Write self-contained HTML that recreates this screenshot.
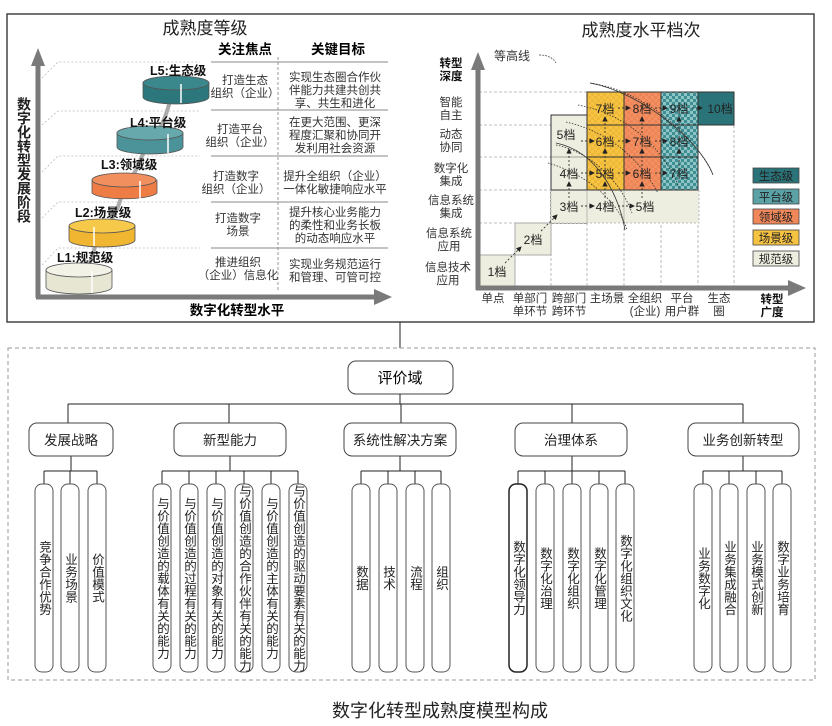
<!DOCTYPE html>
<html><head><meta charset="utf-8"><style>
html,body{margin:0;padding:0;background:#fff;}
svg{display:block;font-family:"Liberation Sans","Noto Sans CJK SC",sans-serif;}
.v{writing-mode:vertical-rl;text-orientation:upright;}
</style></head><body>
<svg width="832" height="726" viewBox="0 0 832 726" xmlns="http://www.w3.org/2000/svg">
<defs>
<marker id="ah" markerWidth="6" markerHeight="6" refX="5" refY="3" orient="auto"><path d="M0,0 L6,3 L0,6 z" fill="#222"/></marker>
<pattern id="py" width="6" height="6" patternUnits="userSpaceOnUse"><rect width="6" height="6" fill="#f6c443"/><rect width="3" height="3" fill="#f0b838"/><rect x="3" y="3" width="3" height="3" fill="#f0b838"/></pattern>
<pattern id="po" width="6" height="6" patternUnits="userSpaceOnUse"><rect width="6" height="6" fill="#f39063"/><rect width="3" height="3" fill="#ee8556"/><rect x="3" y="3" width="3" height="3" fill="#ee8556"/></pattern>
<pattern id="pt" width="6" height="6" patternUnits="userSpaceOnUse"><rect width="6" height="6" fill="#8fc4c4"/><rect width="3" height="3" fill="#3d8f93"/><rect x="3" y="3" width="3" height="3" fill="#3d8f93"/></pattern>
</defs>

<rect x="7" y="14" width="807" height="308" fill="none" stroke="#444" stroke-width="1.5"/>
<line x1="400" y1="322" x2="400" y2="348" stroke="#222" stroke-width="1"/>

<!-- LEFT PANEL -->
<text x="205" y="34" font-size="17" text-anchor="middle" fill="#222">成熟度等级</text>
<text x="245" y="54" font-size="13.5" font-weight="bold" text-anchor="middle">关注焦点</text>
<text x="338" y="54" font-size="13.5" font-weight="bold" text-anchor="middle">关键目标</text>
<line x1="278" y1="57" x2="278" y2="292" stroke="#999" stroke-dasharray="3,2"/>
<g stroke="#888" stroke-width="1">
<line x1="211" y1="62" x2="388" y2="62"/><line x1="211" y1="110" x2="388" y2="110"/>
<line x1="211" y1="156" x2="388" y2="156"/><line x1="211" y1="202" x2="388" y2="202"/>
<line x1="211" y1="248" x2="388" y2="248"/>
</g>
<g stroke="#bbb" stroke-width="0.8" stroke-dasharray="2,2" fill="none">
<path d="M42,78 L58,62 L200,62"/><path d="M42,125 L58,111 L200,111"/>
<path d="M42,172 L58,156 L200,156"/><path d="M42,218 L58,202 L200,202"/>
<path d="M42,265 L58,248 L200,248"/>
</g>
<line x1="38" y1="62" x2="38" y2="298" stroke="#7a7a7a" stroke-width="5"/>
<path d="M31,66 L38,48 L45,66 z" fill="#7a7a7a"/>
<line x1="36" y1="297" x2="378" y2="297" stroke="#7a7a7a" stroke-width="5"/>
<path d="M374,289 L392,297 L374,305 z" fill="#7a7a7a"/>
<text x="24" y="97" font-size="14" font-weight="bold" class="v" fill="#222">数字化转型发展阶段</text>
<text x="237" y="315" font-size="13.5" font-weight="bold" text-anchor="middle">数字化转型水平</text>

<path d="M80,275 C100,255 90,245 102,232 C118,215 120,200 125,185 C140,170 140,155 150,140 C170,120 165,105 176,90" fill="none" stroke="#aaa" stroke-width="4"/>
<g stroke="#555" stroke-width="0.8">
<path d="M46,270 L46,287 A33,7 0 0 0 112,287 L112,270 z" fill="#e6e6d2"/><ellipse cx="79" cy="270" rx="33" ry="7" fill="#f2f2e6"/>
<path d="M69,226 L69,240 A33,7 0 0 0 135,240 L135,226 z" fill="#f0b632"/><ellipse cx="102" cy="226" rx="33" ry="7" fill="#f7c94a"/>
<path d="M92,180 L92,193 A33,7 0 0 0 157,193 L157,180 z" fill="#ee7c45"/><ellipse cx="124" cy="180" rx="32" ry="7" fill="#f28f5e"/>
<path d="M117,133 L117,147 A33,7 0 0 0 183,147 L183,133 z" fill="#4b9398"/><ellipse cx="150" cy="133" rx="33" ry="7" fill="#66a8ac"/>
<path d="M143,83 L143,97 A33,7 0 0 0 209,97 L209,83 z" fill="#2c777c"/><ellipse cx="176" cy="83" rx="33" ry="7" fill="#3a888c"/>
</g>
<g stroke="#fff" stroke-width="1.5">
<line x1="92" y1="271" x2="92" y2="293"/><line x1="94" y1="227" x2="94" y2="246"/>
<line x1="140" y1="181" x2="140" y2="199"/><line x1="168" y1="134" x2="168" y2="153"/><line x1="181" y1="84" x2="181" y2="103"/>
</g>
<g font-size="12.5" font-weight="bold" fill="#111">
<text x="150" y="75">L5:生态级</text><text x="130" y="127">L4:平台级</text>
<text x="101" y="169">L3:领域级</text><text x="75" y="217">L2:场景级</text><text x="57" y="262">L1:规范级</text>
</g>
<g font-size="11.5" text-anchor="middle" fill="#333">
<text x="245" y="84">打造生态</text><text x="245" y="97">组织（企业）</text>
<text x="335" y="81">实现生态圈合作伙</text><text x="335" y="94">伴能力共建共创共</text><text x="335" y="107">享、共生和进化</text>
<text x="240" y="133">打造平台</text><text x="240" y="146">组织（企业）</text>
<text x="335" y="126">在更大范围、更深</text><text x="335" y="139">程度汇聚和协同开</text><text x="335" y="152">发利用社会资源</text>
<text x="236" y="180">打造数字</text><text x="236" y="193">组织（企业）</text>
<text x="335" y="180">提升全组织（企业）</text><text x="335" y="193">一体化敏捷响应水平</text>
<text x="238" y="222">打造数字</text><text x="238" y="235">场景</text>
<text x="335" y="216">提升核心业务能力</text><text x="335" y="229">的柔性和业务长板</text><text x="335" y="242">的动态响应水平</text>
<text x="238" y="266">推进组织</text><text x="238" y="279">（企业）信息化</text>
<text x="335" y="268">实现业务规范运行</text><text x="335" y="281">和管理、可管可控</text>
</g>

<!-- RIGHT PANEL -->
<text x="641" y="36" font-size="17" text-anchor="middle" fill="#222">成熟度水平档次</text>
<text x="494" y="60" font-size="12" fill="#333">等高线</text>
<path d="M539,55 C548,55 553,58 556,63" fill="none" stroke="#555" stroke-width="0.8" stroke-dasharray="2,1"/>
<g stroke="#aaa" stroke-width="0.8" stroke-dasharray="3,2">
<line x1="479" y1="92" x2="587" y2="92"/><line x1="479" y1="125" x2="551" y2="125"/>
<line x1="479" y1="157" x2="551" y2="157"/><line x1="479" y1="190" x2="551" y2="190"/>
<line x1="479" y1="223" x2="551" y2="223"/><line x1="479" y1="255" x2="515" y2="255"/>
<line x1="551" y1="223" x2="551" y2="287"/><line x1="587" y1="223" x2="587" y2="287"/>
<line x1="624" y1="223" x2="624" y2="287"/><line x1="661" y1="190" x2="661" y2="287"/>
<line x1="698" y1="190" x2="698" y2="287"/><line x1="734" y1="125" x2="734" y2="287"/>
</g>
<rect x="479" y="255" width="36" height="32" fill="#eeeee0" stroke="#999" stroke-width="0.8"/>
<rect x="515" y="223" width="36" height="32" fill="#eeeee0" stroke="#999" stroke-width="0.8"/>
<rect x="551" y="115" width="36" height="108" fill="#eeeee0" stroke="#333" stroke-width="1"/>
<rect x="551" y="190" width="148" height="33" fill="#eeeee0" stroke="#aaa" stroke-width="0.8" stroke-dasharray="2,2"/>
<line x1="551" y1="190" x2="587" y2="190" stroke="#333"/>
<line x1="551" y1="157" x2="587" y2="157" stroke="#555" stroke-width="0.6"/>
<rect x="587" y="92" width="37" height="98" fill="url(#py)"/>
<rect x="624" y="92" width="37" height="98" fill="url(#po)"/>
<rect x="661" y="92" width="37" height="98" fill="url(#pt)"/>
<rect x="698" y="92" width="36" height="33" fill="#2a7479"/>
<g stroke="#333" stroke-width="1" fill="none">
<rect x="587" y="92" width="147" height="33"/>
<rect x="587" y="92" width="111" height="98"/>
<line x1="587" y1="125" x2="698" y2="125"/><line x1="587" y1="157" x2="698" y2="157"/>
<line x1="624" y1="92" x2="624" y2="190"/><line x1="661" y1="92" x2="661" y2="190"/><line x1="698" y1="92" x2="698" y2="125"/>
</g>
<line x1="587" y1="190" x2="587" y2="223" stroke="#999" stroke-width="0.6"/>
<line x1="624" y1="190" x2="624" y2="223" stroke="#999" stroke-width="0.6"/>
<g fill="none" stroke="#333" stroke-width="0.8" stroke-dasharray="1.5,1.5">
<path d="M590,83 C640,90 690,130 712,172"/>
<path d="M578,105 C630,115 665,150 680,190"/>
<path d="M566,122 C610,132 640,160 658,193"/>
<path d="M556,145 C590,152 620,180 632,213"/>
<path d="M548,163 C590,175 620,205 627,230"/>
</g>
<g fill="none" stroke="#333" stroke-width="0.8">
<path d="M590,83 C640,92 700,140 713,175"/>
<path d="M556,143 C600,152 620,200 625,230"/>
</g>
<g stroke="#333" stroke-width="0.9" stroke-dasharray="2,2" fill="none" marker-end="url(#ah)">
<line x1="505" y1="263" x2="521" y2="247"/><line x1="541" y1="231" x2="557" y2="215"/>
<line x1="581" y1="206" x2="594" y2="206"/><line x1="618" y1="206" x2="634" y2="206"/>
<line x1="581" y1="173" x2="594" y2="173"/><line x1="618" y1="173" x2="630" y2="173"/><line x1="655" y1="173" x2="667" y2="173"/>
<line x1="581" y1="141" x2="594" y2="141"/><line x1="618" y1="141" x2="630" y2="141"/><line x1="655" y1="141" x2="667" y2="141"/>
<line x1="618" y1="108" x2="630" y2="108"/><line x1="655" y1="108" x2="667" y2="108"/><line x1="692" y1="108" x2="702" y2="108"/>
<line x1="569" y1="198" x2="569" y2="182"/><line x1="569" y1="166" x2="569" y2="149"/>
<line x1="605" y1="198" x2="605" y2="182"/><line x1="605" y1="166" x2="605" y2="149"/><line x1="605" y1="133" x2="605" y2="117"/>
<line x1="642" y1="198" x2="642" y2="182"/><line x1="642" y1="166" x2="642" y2="149"/><line x1="642" y1="133" x2="642" y2="117"/>
<line x1="679" y1="166" x2="679" y2="149"/><line x1="679" y1="133" x2="679" y2="117"/>
</g>
<g font-size="12" text-anchor="middle" fill="#222">
<text x="497" y="276">1档</text><text x="533" y="244">2档</text>
<text x="569" y="211">3档</text><text x="605" y="211">4档</text><text x="645" y="211">5档</text>
<text x="569" y="178">4档</text><text x="605" y="178">5档</text><text x="642" y="178">6档</text><text x="679" y="178">7档</text>
<text x="566" y="139">5档</text><text x="605" y="146">6档</text><text x="642" y="146">7档</text><text x="679" y="146">8档</text>
<text x="605" y="113">7档</text><text x="642" y="113">8档</text><text x="679" y="113">9档</text>
<text x="720" y="113">10档</text>
</g>
<line x1="478" y1="68" x2="478" y2="290" stroke="#7a7a7a" stroke-width="5"/>
<path d="M471,70 L478,52 L485,70 z" fill="#7a7a7a"/>
<line x1="476" y1="288" x2="790" y2="288" stroke="#7a7a7a" stroke-width="5"/>
<path d="M788,280 L806,288 L788,296 z" fill="#7a7a7a"/>
<g font-size="11.5" text-anchor="middle" fill="#333">
<text x="451" y="67" font-weight="bold" fill="#111">转型</text><text x="451" y="80" font-weight="bold" fill="#111">深度</text>
<text x="451" y="106">智能</text><text x="451" y="119">自主</text>
<text x="451" y="138">动态</text><text x="451" y="151">协同</text>
<text x="451" y="172">数字化</text><text x="451" y="185">集成</text>
<text x="451" y="204">信息系统</text><text x="451" y="217">集成</text>
<text x="449" y="237">信息系统</text><text x="449" y="250">应用</text>
<text x="448" y="271">信息技术</text><text x="448" y="284">应用</text>
<text x="493" y="302">单点</text>
<text x="530" y="302">单部门</text><text x="530" y="315">单环节</text>
<text x="569" y="302">跨部门</text><text x="569" y="315">跨环节</text>
<text x="607" y="302">主场景</text>
<text x="645" y="302">全组织</text><text x="645" y="315">(企业)</text>
<text x="682" y="302">平台</text><text x="682" y="315">用户群</text>
<text x="719" y="302">生态</text><text x="719" y="315">圈</text>
<text x="772" y="303" font-weight="bold" fill="#111">转型</text><text x="772" y="316" font-weight="bold" fill="#111">广度</text>
</g>
<g stroke="#444" stroke-width="0.8">
<rect x="753" y="168" width="46" height="15" fill="#2a7479"/>
<rect x="753" y="189" width="46" height="15" fill="#5ba2a6"/>
<rect x="753" y="209" width="46" height="15" fill="#f0885a"/>
<rect x="753" y="230" width="46" height="15" fill="#f5c242"/>
<rect x="753" y="251" width="46" height="15" fill="#eeeee0"/>
</g>
<g font-size="11.5" text-anchor="middle" fill="#222">
<text x="776" y="180">生态级</text><text x="776" y="201">平台级</text><text x="776" y="221">领域级</text><text x="776" y="242">场景级</text><text x="776" y="263">规范级</text>
</g>

<!-- BOTTOM -->
<rect x="8" y="348" width="807" height="332" fill="none" stroke="#999" stroke-dasharray="4,3"/>
<rect x="348" y="361" width="105" height="33" rx="8" fill="#fff" stroke="#444"/>
<text x="400" y="383" font-size="15" text-anchor="middle">评价域</text>
<g stroke="#222" stroke-width="1" fill="none">
<line x1="400" y1="394" x2="400" y2="404"/>
<line x1="68" y1="404" x2="743" y2="404"/>
<line x1="68" y1="404" x2="68" y2="423"/><line x1="229" y1="404" x2="229" y2="423"/>
<line x1="401" y1="404" x2="401" y2="423"/><line x1="572" y1="404" x2="572" y2="423"/>
<line x1="743" y1="404" x2="743" y2="423"/>
<line x1="71" y1="456" x2="71" y2="471"/><line x1="44" y1="471" x2="97" y2="471"/>
<line x1="230" y1="456" x2="230" y2="471"/><line x1="162" y1="471" x2="298" y2="471"/>
<line x1="400" y1="456" x2="400" y2="471"/><line x1="361" y1="471" x2="441" y2="471"/>
<line x1="572" y1="456" x2="572" y2="471"/><line x1="518" y1="471" x2="625" y2="471"/>
<line x1="743" y1="456" x2="743" y2="471"/><line x1="703" y1="471" x2="782" y2="471"/>
<path d="M44,471V484M70,471V484M97,471V484M162,471V484M189,471V484M216,471V484M244,471V484M271,471V484M298,471V484M361,471V484M388,471V484M415,471V484M441,471V484M518,471V484M545,471V484M572,471V484M599,471V484M625,471V484M703,471V484M729,471V484M756,471V484M782,471V484"/>
</g>
<g fill="#fff" stroke="#444" stroke-width="1">
<rect x="29" y="423" width="84" height="33" rx="8"/>
<rect x="174" y="423" width="112" height="33" rx="8"/>
<rect x="344" y="423" width="112" height="33" rx="8"/>
<rect x="515" y="423" width="112" height="33" rx="8"/>
<rect x="688" y="423" width="111" height="33" rx="8"/>
</g>
<g font-size="13.5" text-anchor="middle" fill="#222">
<text x="71" y="445">发展战略</text><text x="230" y="445">新型能力</text><text x="400" y="445">系统性解决方案</text>
<text x="571" y="445">治理体系</text><text x="743" y="445">业务创新转型</text>
</g>
<g fill="#fff" stroke="#555" stroke-width="1">
<rect x="35" y="484" width="18" height="188" rx="7"/><rect x="61" y="484" width="18" height="188" rx="7"/><rect x="88" y="484" width="18" height="188" rx="7"/>
<rect x="153" y="484" width="18" height="188" rx="7"/><rect x="180" y="484" width="18" height="188" rx="7"/><rect x="207" y="484" width="18" height="188" rx="7"/>
<rect x="235" y="484" width="18" height="188" rx="7"/><rect x="262" y="484" width="18" height="188" rx="7"/><rect x="289" y="484" width="18" height="188" rx="7"/>
<rect x="352" y="484" width="18" height="188" rx="7"/><rect x="379" y="484" width="18" height="188" rx="7"/><rect x="406" y="484" width="18" height="188" rx="7"/><rect x="432" y="484" width="18" height="188" rx="7"/>
<rect x="509" y="484" width="18" height="188" rx="7" stroke="#222" stroke-width="1.5"/><rect x="536" y="484" width="18" height="188" rx="7"/><rect x="563" y="484" width="18" height="188" rx="7"/><rect x="590" y="484" width="18" height="188" rx="7"/><rect x="616" y="484" width="18" height="188" rx="7"/>
<rect x="694" y="484" width="18" height="188" rx="7"/><rect x="720" y="484" width="18" height="188" rx="7"/><rect x="747" y="484" width="18" height="188" rx="7"/><rect x="773" y="484" width="18" height="188" rx="7"/>
</g>
<g font-size="12.5" text-anchor="middle" fill="#222" class="v">
<text x="44" y="578">竞争合作优势</text><text x="70" y="578">业务场景</text><text x="97" y="578">价值模式</text>
<text x="162" y="578">与价值创造的载体有关的能力</text><text x="189" y="578">与价值创造的过程有关的能力</text>
<text x="216" y="578">与价值创造的对象有关的能力</text><text x="244" y="578">与价值创造的合作伙伴有关的能力</text>
<text x="271" y="578">与价值创造的主体有关的能力</text><text x="298" y="578">与价值创造的驱动要素有关的能力</text>
<text x="361" y="578">数据</text><text x="388" y="578">技术</text><text x="415" y="578">流程</text><text x="441" y="578">组织</text>
<text x="518" y="578">数字化领导力</text><text x="545" y="578">数字化治理</text><text x="572" y="578">数字化组织</text>
<text x="599" y="578">数字化管理</text><text x="625" y="578">数字化组织文化</text>
<text x="703" y="578">业务数字化</text><text x="729" y="578">业务集成融合</text><text x="756" y="578">业务模式创新</text><text x="782" y="578">数字业务培育</text>
</g>
<text x="440" y="717" font-size="18" text-anchor="middle" fill="#222">数字化转型成熟度模型构成</text>
</svg>
</body></html>
